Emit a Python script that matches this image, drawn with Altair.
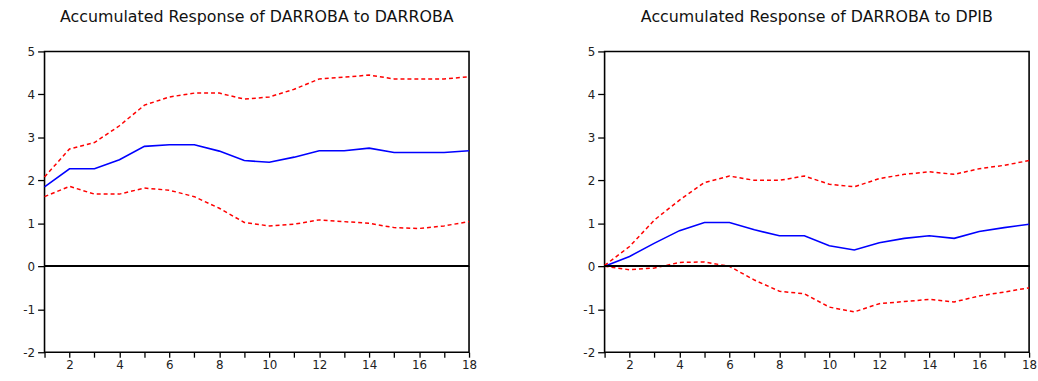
import altair as alt
import pandas as pd

periods = list(range(1, 19))

# Left panel: Accumulated Response of DARROBA to DARROBA
left_resp = [1.85, 2.27, 2.27, 2.48, 2.79, 2.83, 2.83, 2.68, 2.46, 2.42, 2.54, 2.69, 2.69, 2.75, 2.65, 2.65, 2.65, 2.69]
left_upper = [2.08, 2.73, 2.88, 3.27, 3.75, 3.94, 4.03, 4.03, 3.89, 3.94, 4.12, 4.36, 4.40, 4.45, 4.36, 4.36, 4.36, 4.41]
left_lower = [1.62, 1.86, 1.68, 1.68, 1.82, 1.77, 1.62, 1.35, 1.02, 0.94, 0.98, 1.08, 1.04, 1.00, 0.90, 0.88, 0.94, 1.04]

# Right panel: Accumulated Response of DARROBA to DPIB
right_resp = [0.00, 0.23, 0.54, 0.83, 1.02, 1.02, 0.85, 0.71, 0.71, 0.48, 0.38, 0.55, 0.65, 0.71, 0.65, 0.81, 0.90, 0.98]
right_upper = [0.02, 0.46, 1.08, 1.54, 1.95, 2.10, 2.00, 2.00, 2.10, 1.91, 1.85, 2.04, 2.14, 2.20, 2.14, 2.27, 2.35, 2.46]
right_lower = [0.00, -0.08, -0.04, 0.09, 0.10, 0.00, -0.32, -0.58, -0.64, -0.95, -1.06, -0.87, -0.82, -0.77, -0.83, -0.69, -0.60, -0.50]

titles = ["Accumulated Response of DARROBA to DARROBA", "Accumulated Response of DARROBA to DPIB"]
y_ticks = [-2, -1, 0, 1, 2, 3, 4, 5]

FONT = "DejaVu Sans"


def panel(title, resp, upper, lower):
    df = pd.DataFrame({"period": periods, "resp": resp, "upper": upper, "lower": lower})
    x = alt.X("period:Q", scale=alt.Scale(domain=[1, 18], nice=False, zero=False),
              axis=alt.Axis(values=periods, title=None, grid=False, domain=False,
                            tickSize=5, tickColor="black", tickWidth=1.3,
                            labelExpr="datum.value % 2 == 0 ? datum.label : ''",
                            labelFont=FONT, labelFontSize=12, labelColor="#222",
                            labelPadding=2, labelFlush=False))
    yax = alt.Axis(values=y_ticks, title=None, grid=False, domain=False,
                   tickSize=7, tickColor="black", tickWidth=1.3,
                   labelExpr="'' + datum.value",
                   labelFont=FONT, labelFontSize=12, labelColor="#222",
                   labelPadding=3, labelFlush=False)
    yscale = alt.Scale(domain=[-2, 5], nice=False, zero=False)
    base = alt.Chart(df)
    zero = base.mark_rule(color="black", strokeWidth=1.5).encode(
        y=alt.datum(0, scale=yscale, axis=yax))
    blue = base.mark_line(color="#0000FF", strokeWidth=1.6).encode(
        x=x, y=alt.Y("resp:Q", scale=yscale, axis=yax))
    up = base.mark_line(color="#FF0000", strokeWidth=1.5, strokeDash=[4, 3]).encode(
        x=x, y=alt.Y("upper:Q", scale=yscale, axis=yax))
    lo = base.mark_line(color="#FF0000", strokeWidth=1.5, strokeDash=[4, 3]).encode(
        x=x, y=alt.Y("lower:Q", scale=yscale, axis=yax))
    return alt.layer(blue, up, lo, zero).properties(
        width=429, height=304,
        title=alt.TitleParams(title, font=FONT, fontSize=16, fontWeight="normal",
                              color="#111", anchor="middle", offset=21))


left = panel(titles[0], left_resp, left_upper, left_lower)
right = panel(titles[1], right_resp, right_upper, right_lower)

chart = alt.hconcat(left, right, spacing=105).properties(
    padding={"left": 22, "top": 6, "right": 0, "bottom": 0},
    background="white",
).configure_view(stroke="black", strokeWidth=1.6)

chart.save("out.html", embed_options={"renderer": "svg", "actions": False})
